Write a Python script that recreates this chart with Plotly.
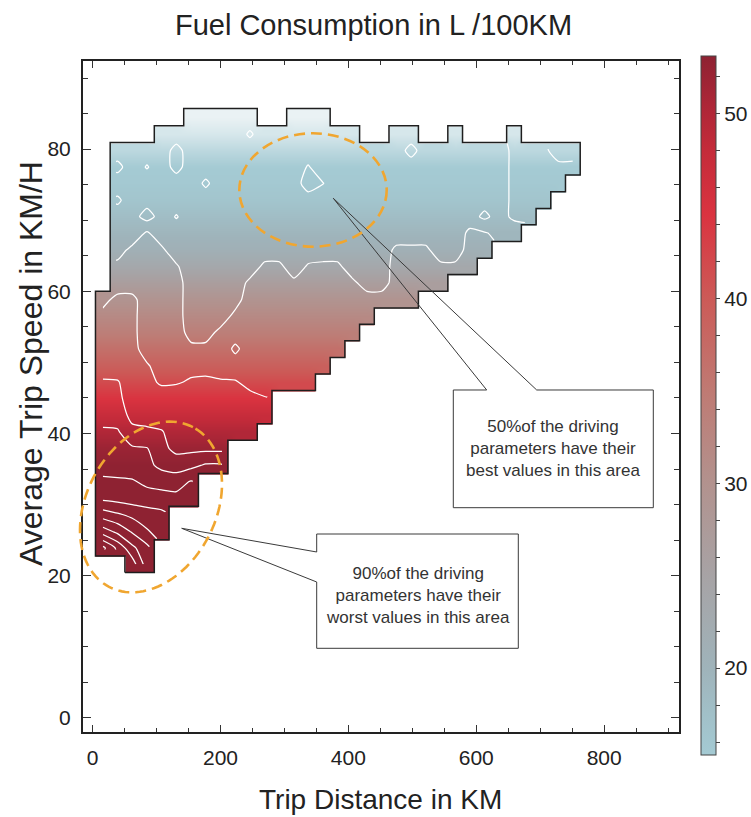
import math
import plotly.graph_objects as go

N = None

# ---------------- data ----------------
# centres of the distance bins (km) and speed bins (km/h)
distance_km = [16, 39, 62, 85, 108, 131, 154, 177, 200, 223, 246, 269, 292, 315, 337, 360, 383,
               406, 429, 452, 475, 498, 521, 544, 567, 590, 613, 636, 659, 682, 705, 728, 751]
speed_kmh = [21.6, 23.9, 26.2, 28.6, 30.9, 33.2, 35.5, 37.9, 40.2, 42.5, 44.9, 47.2, 49.5, 51.9,
             54.2, 56.5, 58.8, 61.2, 63.5, 65.8, 68.2, 70.5, 72.8, 75.2, 77.5, 79.8, 82.1, 84.5]

# shading level of each speed row (L/100km)
row_fuel = [53.1, 53.1, 53.1, 53.1, 53.1, 53.1, 53.0, 52.0, 50.0, 47.5, 44.5, 41.8, 39.0, 36.5,
            34.0, 31.8, 29.5, 26.5, 23.5, 21.0, 19.5, 18.0, 16.5, 15.6, 15.2, 13.8, 12.0, 10.0]

# cell values (L/100km) per speed row: (first distance bin, values)
cell_rows = [
    (2, [60, 52]),
    (0, [67, 61, 55, 51]),
    (0, [56, 53, 49.5, 46.5, 44]),
    (0, [48, 46.5, 45, 43.5, 43]),
    (0, [41, 40.5, 40, 40, 39.5, 39, 39.5]),
    (0, [39, 38.7, 38.5, 37, 36.5, 36.5, 38.3]),
    (0, [36, 36, 35.5, 35, 33, 32, 33, 34.5, 34.5]),
    (0, [35, 35, 34.5, 34.2, 31, 29, 29, 29, 29]),
    (0, [34.8, 34.5, 31, 31, 30.3, 28, 28, 28, 28, 28, 28]),
    (0, [32, 32, 29, 28, 28, 28, 28, 28, 28, 28, 28, 28]),
    (0, [31.5, 31, 28, 28, 28, 28, 28, 28, 28, 28, 27, 26.3]),
    (0, [30.5, 30.3, 28, 27, 25.5, 25.7, 26.4, 26.6, 26.5, 26.3, 25, 24, 24, 24, 24]),
    (0, [28, 28, 28, 26.5, 24, 24, 25, 25, 24, 24, 24, 24, 24, 24, 24, 24]),
    (0, [28, 28, 27.5, 24, 24, 24, 23, 23, 23.5, 26.8, 24, 24, 24, 24, 24, 24, 24]),
    (0, [28, 28, 27, 24, 24, 24, 20.5, 20.5, 23, 24, 24, 24, 24, 24, 24, 24, 24, 24]),
    (0, [27, 27.5, 27, 24, 24, 24, 19.5, 19.5, 20, 23, 24, 24, 24, 24, 24, 24, 24, 24, 24]),
    (0, [25, 27, 27, 24, 24, 24, 19.5, 19.5, 19.5, 20.5, 24, 24, 24, 24, 24, 24, 24, 24, 24, 24,
         24, 24]),
    (1, [24, 24, 24, 24, 24, 19.5, 19.5, 19.5, 19.5, 23, 24, 24, 23, 24, 24, 24, 23, 20, 20, 24,
         24, 24, 24]),
    (1, [23, 24, 24, 24, 22.5, 19.5, 19.5, 19.5, 19.5, 19.5, 23, 23, 19.5, 22.5, 23, 23, 19.5,
         19.5, 19.5, 24, 24, 24, 23, 23, 24]),
    (1, [20.5, 23, 24, 22.8, 19.5, 19.5, 19.5, 19.5, 19.5, 19.5, 19.5, 19.5, 19.5, 19.5, 19.5,
         19.5, 19.5, 19.5, 19.5, 23, 23, 23, 19.5, 19.5, 24, 24]),
    (1, [19.5, 19.5, 22.5, 19.5, 19.5, 19.5, 19.5, 19.5, 19.5, 19.5, 19.5, 19.5, 19.5, 19.5,
         19.5, 19.5, 19.5, 19.5, 19.5, 19.5, 19.5, 19.5, 19.5, 19.5, 23, 22.3, 21, 20.5]),
    (1, [19.5, 19.5, 16.5, 19.5, 17.8, 19.5, 19.5, 19.5, 19.5, 19.5, 19.5, 19.5, 19.5, 19.5,
         19.5, 19.5, 19.5, 19.5, 19.5, 19.5, 19.5, 19.5, 19.5, 19.5, 19.5, 17.2, 19.5, 17.2, 17.2]),
    (1, [17.5, 19.5, 19.5, 19.5, 19.5, 19.5, 19.5, 19.5, 19.5, 19.5, 19.5, 19.5, 19.5, 19.5,
         19.5, 19.5, 19.5, 19.5, 19.5, 19.5, 19.5, 19.5, 19.5, 19.5, 19.5, 19.5, 19.5, 17.2, 17.2,
         17.2]),
    (1, [19.5, 19.5, 19.5, 19.5, 19.5, 19.5, 17.5, 19.5, 19.5, 19.5, 19.5, 19.5, 19.5, 16.5,
         17.9, 19.5, 19.5, 19.5, 19.5, 19.5, 19.5, 19.5, 19.5, 19.5, 19.5, 19.5, 19.5, 17.2, 17.2,
         17.2, 17.2]),
    (1, [17.2, 19.5, 17.8, 19.5, 17.0, 19.5, 19.5, 19.5, 19.5, 19.5, 19.5, 19.5, 19.5, 17.8,
         19.5, 19.5, 19.5, 19.5, 19.5, 19.5, 19.5, 19.5, 19.5, 19.5, 19.5, 19.5, 19.5, 17.2, 17.2,
         17.2, 17.2, 17.2]),
    (1, [19.5, 19.5, 19.5, 19.5, 17.0, 19.5, 19.5, 19.5, 19.5, 19.5, 19.5, 19.5, 19.5, 19.5,
         19.5, 19.5, 19.5, 19.5, 19.5, 19.5, 17.0, 19.5, 19.5, 19.5, 19.5, 19.5, 19.5, 17.2, 17.2,
         17.2, 19.5, 19.5]),
    (4, [19.5, 19.5, 19.5, 19.5, 19.5, 19.5, 17.6, 19.5, 19.5, 19.5, 19.5, 19.5, 19.5, 19.5,
         N, N, 19.5, 19.5, N, N, 19.5, N, N, N, 17.2]),
    (6, [19.5, 19.5, 19.5, 19.5, 19.5, N, N, 19.5, 19.5, 19.5]),
]

x_ticks = [0, 200, 400, 600, 800]
y_ticks = [0, 20, 40, 60, 80]
cbar_ticks = [16, 18, 20, 22, 24, 26, 28, 30, 32, 34, 36, 38, 40, 42, 44, 46, 48, 50, 52]
cbar_labels = ['', '', '20', '', '', '', '', '30', '', '', '', '', '40', '', '', '', '', '50', '']

color_stops = [(8.0, '#f4f8f9'), (10.0, '#eaf2f4'), (12.0, '#d6e7eb'), (13.8, '#bcd8df'),
               (15.3, '#a4cad3'), (17.5, '#a1c0c8'), (20.0, '#9fb3ba'), (25.0, '#a7a3a5'),
               (30.0, '#b2928e'), (35.0, '#bf7a73'), (40.0, '#cc5a57'), (44.5, '#da3340'),
               (48.0, '#c42b3a'), (50.5, '#ac2637'), (53.1, '#8e2232')]
CB_MIN, CB_MAX, FILL_MIN = 15.3, 53.1, 8.0

FONT = "Liberation Sans, Arial, Helvetica, sans-serif"
TXT = "#222222"

# ---------------- build grids ----------------
ncols, nrows = len(distance_km), len(speed_kmh)
cell_fuel = []
for start, vals in cell_rows:
    row = [None] * ncols
    for i, v in enumerate(vals):
        row[start + i] = v
    cell_fuel.append(row)

fill_z = [[row_fuel[r] if cell_fuel[r][c] is not None else None for c in range(ncols)]
          for r in range(nrows)]


def scale(lo, hi):
    return [[(v - lo) / (hi - lo), col] for v, col in color_stops if lo <= v <= hi]


def edges(c):
    e = [c[0] - (c[1] - c[0]) / 2]
    for i in range(len(c) - 1):
        e.append((c[i] + c[i + 1]) / 2)
    e.append(c[-1] + (c[-1] - c[-2]) / 2)
    return e


xe, ye = edges(distance_km), edges(speed_kmh)


def inside(r, c):
    return 0 <= r < nrows and 0 <= c < ncols and cell_fuel[r][c] is not None


segs = {}
for r in range(nrows):
    for c in range(ncols):
        if not inside(r, c):
            continue
        if not inside(r - 1, c):
            segs.setdefault((c, r), []).append((c + 1, r))
        if not inside(r, c + 1):
            segs.setdefault((c + 1, r), []).append((c + 1, r + 1))
        if not inside(r + 1, c):
            segs.setdefault((c + 1, r + 1), []).append((c, r + 1))
        if not inside(r, c - 1):
            segs.setdefault((c, r + 1), []).append((c, r))
ox, oy = [], []
while segs:
    start = next(iter(segs))
    pts, cur = [start], start
    while True:
        lst = segs.get(cur)
        if not lst:
            break
        nx = lst.pop()
        if not lst:
            del segs[cur]
        pts.append(nx)
        cur = nx
        if cur == start:
            break
    for (c, r) in pts:
        ox.append(xe[c])
        oy.append(ye[r])
    ox.append(None)
    oy.append(None)

# ---------------- figure ----------------
W, H = 751, 817
ML, MR, MT, MB = 83, 72, 61, 85
PW, PH = W - ML - MR, H - MT - MB


def px(x, y):
    return (x - ML) / PW, (H - MB - y) / PH


fig = go.Figure()
fig.add_trace(go.Heatmap(x=distance_km, y=speed_kmh, z=fill_z, zsmooth='best',
                         colorscale=scale(FILL_MIN, CB_MAX), zmin=FILL_MIN, zmax=CB_MAX,
                         showscale=False, hoverinfo='skip'))
fig.add_trace(go.Contour(x=distance_km, y=speed_kmh, z=cell_fuel,
                         contours=dict(start=18, end=66, size=4, coloring='none'),
                         line=dict(color='white', width=1.25, smoothing=0.6),
                         showscale=False, hoverinfo='skip'))
fig.add_trace(go.Scatter(x=ox, y=oy, mode='lines', line=dict(color='#1e1e1e', width=1.5),
                         hoverinfo='skip', showlegend=False))
fig.add_trace(go.Scatter(x=[distance_km[0], distance_km[0]], y=[speed_kmh[0], speed_kmh[0]],
                         mode='markers', hoverinfo='skip', showlegend=False,
                         marker=dict(size=1, opacity=0, color=[CB_MIN, CB_MAX],
                                     colorscale=scale(CB_MIN, CB_MAX), cmin=CB_MIN, cmax=CB_MAX,
                                     showscale=True,
                                     colorbar=dict(x=(700.7 - ML) / PW, xanchor='left',
                                                   y=(H - MB - 405.5) / PH, yanchor='middle',
                                                   len=699 / PH, lenmode='fraction',
                                                   thickness=15, xpad=0, ypad=0,
                                                   outlinewidth=1, outlinecolor='#444',
                                                   tickmode='array', tickvals=cbar_ticks,
                                                   ticktext=cbar_labels, ticks='outside',
                                                   ticklen=4, tickwidth=1, tickcolor='#444',
                                                   tickfont=dict(family=FONT, size=21,
                                                                 color=TXT)))))

shapes = []
# callout boxes
for (x0, y0, x1, y1) in [(453.3, 390, 653.3, 507.7), (316.7, 534, 518.3, 648.3)]:
    a, b = px(x0, y1)
    c, d = px(x1, y0)
    shapes.append(dict(type='rect', xref='paper', yref='paper', x0=a, y0=b, x1=c, y1=d,
                       fillcolor='white', line=dict(width=0), layer='above'))


def path(points, close=False):
    s = ''
    for i, (x, y) in enumerate(points):
        u, v = px(x, y)
        s += ('M' if i == 0 else 'L') + f' {u:.5f},{v:.5f} '
    return s + ('Z' if close else '')


shapes.append(dict(type='path', xref='paper', yref='paper', layer='above',
                   path=path([(486.7, 390), (453.3, 390), (453.3, 507.7), (653.3, 507.7),
                              (653.3, 390), (536.7, 390), (333.3, 198.3), (486.7, 390)]),
                   line=dict(color='#3a3a3a', width=1), fillcolor='rgba(0,0,0,0)'))
shapes.append(dict(type='path', xref='paper', yref='paper', layer='above',
                   path=path([(316.7, 552), (316.7, 534), (518.3, 534), (518.3, 648.3),
                              (316.7, 648.3), (316.7, 582), (181.7, 528.3), (316.7, 552)]),
                   line=dict(color='#3a3a3a', width=1), fillcolor='rgba(0,0,0,0)'))

# dashed orange ellipses
ORANGE = '#f0a630'
u0, v0 = px(239.3, 246.7)
u1, v1 = px(386.7, 133.3)
shapes.append(dict(type='circle', xref='paper', yref='paper', x0=u0, y0=v0, x1=u1, y1=v1,
                   line=dict(color=ORANGE, width=2.6, dash='11px,6px'), layer='above'))
cx, cy, ea, eb, phi = 151, 507, 90.2, 64.7, math.radians(62.3)
ell = []
for k in range(121):
    t = 2 * math.pi * k / 120
    xx = cx + ea * math.cos(t) * math.cos(phi) - eb * math.sin(t) * math.sin(phi)
    yy = cy - (ea * math.cos(t) * math.sin(phi) + eb * math.sin(t) * math.cos(phi))
    ell.append((xx, yy))
shapes.append(dict(type='path', xref='paper', yref='paper', layer='above', path=path(ell),
                   line=dict(color=ORANGE, width=2.6, dash='11px,6px'),
                   fillcolor='rgba(0,0,0,0)'))

ann = []
for txt, (x, y) in [("50%of the driving<br>parameters have their<br>best values in this area",
                     (553, 448)),
                    ("90%of the driving<br>parameters have their<br>worst values in this area",
                     (417.5, 595))]:
    u, v = px(x, y)
    ann.append(dict(text=txt, x=u, y=v, xref='paper', yref='paper', showarrow=False,
                    xanchor='center', yanchor='middle', align='center',
                    font=dict(family=FONT, size=17, color='#333')))
u, v = px(31, 364)
ann.append(dict(text="Average Trip Speed in KM/H", x=u, y=v, xref='paper', yref='paper',
                showarrow=False, textangle=-90, xanchor='center', yanchor='middle',
                font=dict(family=FONT, size=32, color=TXT)))
u, v = px(380, 799)
ann.append(dict(text="Trip Distance in KM", x=u, y=v, xref='paper', yref='paper',
                showarrow=False, xanchor='center', yanchor='middle',
                font=dict(family=FONT, size=28, color=TXT)))

axis_common = dict(ticks='inside', tickwidth=1.2, tickcolor='#333', showline=True,
                   linewidth=2, linecolor='#222', mirror='ticks', showgrid=False,
                   zeroline=False, tickfont=dict(family=FONT, size=21, color=TXT))
fig.update_layout(
    width=W, height=H, margin=dict(l=ML, r=MR, t=MT, b=MB, autoexpand=False),
    paper_bgcolor='white', plot_bgcolor='white', showlegend=False,
    title=dict(text="Fuel Consumption in L /100KM", x=(373.5 - ML) / PW, xref='paper',
               xanchor='center', y=1 - 25 / H, yref='container', yanchor='middle',
               font=dict(family=FONT, size=29, color=TXT)),
    xaxis=dict(range=[-15, 917], tickmode='linear', tick0=0, dtick=200, ticklen=7,
               minor=dict(dtick=50, tick0=0, ticklen=4, ticks='inside', tickcolor='#333',
                          tickwidth=1),
               ticklabelstandoff=6, **axis_common),
    yaxis=dict(range=[-2, 92.4], tickmode='linear', tick0=0, dtick=20, ticklen=8,
               minor=dict(dtick=5, tick0=0, ticklen=5, ticks='inside', tickcolor='#333',
                          tickwidth=1),
               ticklabelstandoff=6, **axis_common),
    shapes=shapes, annotations=ann,
)

fig.write_html("out.html", config={'displayModeBar': False},
               post_script="document.body.style.margin='0';")
